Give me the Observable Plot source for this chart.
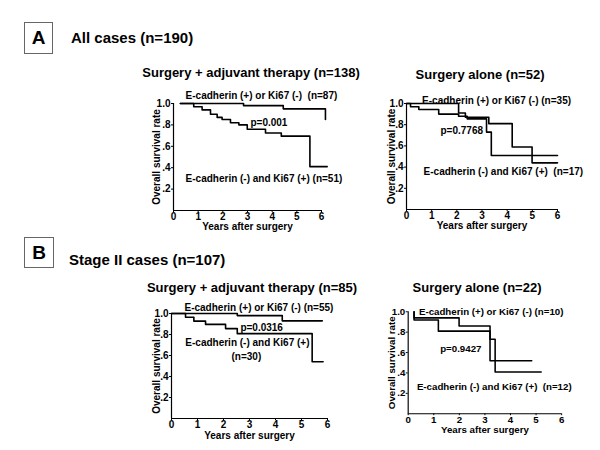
<!DOCTYPE html>
<html><head><meta charset="utf-8">
<script src="https://cdn.jsdelivr.net/npm/d3@7"></script>
<script src="https://cdn.jsdelivr.net/npm/@observablehq/plot@0.6"></script>
<style>
body{margin:0;background:#fff;}
#fig{position:relative;width:600px;height:450px;background:#fff;font-family:"Liberation Sans",Arial,sans-serif;font-weight:bold;color:#000;overflow:hidden;}
.abs{position:absolute;white-space:nowrap;line-height:16px;}
.ctr{transform:translateX(-50%);}
.box{position:absolute;border:1px solid #666;box-sizing:border-box;text-align:center;font-size:19px;}
.panel{position:absolute;}
svg text{white-space:pre;}
</style></head><body><div id="fig"></div>
<script>
// ---------- data ----------
const xTicks = [0, 1, 2, 3, 4, 5, 6];
const yTicks = [0.2, 0.4, 0.6, 0.8, 1.0];
const yTickLabels = [".2", ".4", ".6", ".8", "1.0"];
const xLabel = "Years after surgery";
const yLabel = "Overall survival rate";

const headerA = "All cases (n=190)";
const headerB = "Stage II cases (n=107)";
const titles = ["Surgery + adjuvant therapy (n=138)", "Surgery alone (n=52)",
                "Surgery + adjuvant therapy (n=85)", "Surgery alone (n=22)"];

// A1: surgery + adjuvant therapy, all cases
const a1PosTime = [0.28, 2.84, 4.45, 6.16];
const a1PosSurv = [1.0, 0.98, 0.95, 0.85];
const a1NegTime = [0.28, 0.82, 1.16, 1.50, 1.77, 1.97, 2.31, 2.65, 2.99, 3.73, 4.37, 5.53, 6.23];
const a1NegSurv = [1.0, 0.97, 0.94, 0.90, 0.87, 0.85, 0.82, 0.80, 0.76, 0.725, 0.695, 0.41, 0.41];
const a1Texts = ["E-cadherin (+) or Ki67 (-)  (n=87)", "p=0.001", "E-cadherin (-) and Ki67 (+) (n=51)"];

// A2: surgery alone, all cases
const a2PosTime = [0, 2.07, 2.34, 3.27, 4.2, 4.99, 6.0];
const a2PosSurv = [1.0, 0.91, 0.87, 0.81, 0.59, 0.44, 0.44];
const a2NegTime = [0, 0.16, 0.49, 1.28, 2.07, 2.41, 3.18, 3.37, 6.0];
const a2NegSurv = [1.0, 0.97, 0.944, 0.90, 0.88, 0.855, 0.73, 0.51, 0.51];
const a2Texts = ["E-cadherin (+) or Ki67 (-) (n=35)", "p=0.7768", "E-cadherin (-) and Ki67 (+)  (n=17)"];

// B1: surgery + adjuvant therapy, stage II
const b1PosTime = [0, 2.53, 4.26, 5.8];
const b1PosSurv = [1.0, 0.98, 0.93, 0.93];
const b1NegTime = [0, 0.54, 0.86, 1.31, 2.08, 2.53, 5.41, 5.83];
const b1NegSurv = [1.0, 0.965, 0.927, 0.896, 0.856, 0.808, 0.54, 0.54];
const b1Texts = ["E-cadherin (+) or Ki67 (-) (n=55)", "p=0.0316", "E-cadherin (-) and Ki67 (+)", "(n=30)"];

// B2: surgery alone, stage II
const b2PosTime = [0.23, 0.23, 1.99, 3.2, 3.4, 5.2];
const b2PosSurv = [1.0, 0.94, 0.86, 0.73, 0.41, 0.41];
const b2NegTime = [0.23, 0.23, 1.18, 3.2, 4.83];
const b2NegSurv = [1.0, 0.92, 0.81, 0.52, 0.52];
const b2Texts = ["E-cadherin (+) or Ki67 (-) (n=10)", "p=0.9427", "E-cadherin (-) and Ki67 (+)  (n=12)"];

// ---------- layout (pixel frame of each panel, annotation anchors in data units) ----------
const panelLayout = [
  {left:173, top:103, w:148, h:107, xLabDy:19, yLabDx:-17, titleX:251, titleY:73,
   annoX:[0.49, 3.12, 0.49], annoY:[1.074, 0.818, 0.294], annoAnchor:["start","start","start"]},
  {left:406, top:103, w:151, h:106, xLabDy:19, yLabDx:-15, titleX:480, titleY:75,
   annoX:[0.62, 1.35, 0.68], annoY:[1.028, 0.738, 0.355], annoAnchor:["start","start","start"]},
  {left:171, top:313, w:156, h:105, xLabDy:20, yLabDx:-15, titleX:252, titleY:288,
   annoX:[0.5, 2.65, 2.92, 2.88], annoY:[1.059, 0.868, 0.717, 0.585], annoAnchor:["start","start","middle","middle"]},
  {left:409, top:312, w:158, h:105, xLabDy:20, yLabDx:-17, titleX:477, titleY:288,
   annoX:[0.42, 1.25, 0.34], annoY:[1.0, 0.638, 0.267], annoAnchor:["start","start","start"]}
];

const curves = [
  [[a1PosTime, a1PosSurv], [a1NegTime, a1NegSurv]],
  [[a2PosTime, a2PosSurv], [a2NegTime, a2NegSurv]],
  [[b1PosTime, b1PosSurv], [b1NegTime, b1NegSurv]],
  [[b2PosTime, b2PosSurv], [b2NegTime, b2NegSurv]]
];
const annoTexts = [a1Texts, a2Texts, b1Texts, b2Texts];

const fig = document.getElementById("fig");
function addDiv(cls, text, css) {
  const d = document.createElement("div");
  d.className = cls; d.textContent = text;
  Object.assign(d.style, css);
  fig.appendChild(d);
  return d;
}

// section headers
addDiv("box", "A", {left:"24px", top:"22px", width:"29px", height:"32px", lineHeight:"30px"});
addDiv("abs", headerA, {left:"71px", top:"30px", fontSize:"15px"});
addDiv("box", "B", {left:"24px", top:"237px", width:"30px", height:"31px", lineHeight:"29px"});
addDiv("abs", headerB, {left:"69px", top:"252px", fontSize:"15px"});

const mL = 45, mR = 40, mT = 25, mB = 30;
panelLayout.forEach((L, i) => {
  addDiv("abs ctr", titles[i], {left: L.titleX + "px", top: (L.titleY - 8) + "px", fontSize: "13px"});
  const rows = [];
  curves[i].forEach(([t, s], k) => t.forEach((tt, j) => rows.push({g: k, t: tt, s: s[j]})));
  const annos = annoTexts[i].map((txt, j) => ({txt, x: L.annoX[j], y: L.annoY[j], a: L.annoAnchor[j]}));
  const chart = Plot.plot({
    width: L.w + mL + mR,
    height: L.h + mT + mB,
    marginLeft: mL, marginRight: mR, marginTop: mT, marginBottom: mB,
    style: {fontFamily: '"Liberation Sans", Arial, sans-serif', fontWeight: "bold", fontSize: "10px", background: "transparent", color: "#000"},
    x: {domain: [0, 6], ticks: xTicks, tickSize: 2, tickPadding: 0, label: null, tickFormat: d => String(d)},
    y: {domain: [0, 1], ticks: yTicks, tickSize: 2, tickPadding: 1, label: null,
        tickFormat: d => yTickLabels[yTicks.indexOf(d)]},
    marks: [
      Plot.ruleX([0], {stroke: "#000", strokeWidth: 1.2}),
      Plot.ruleY([0], {stroke: "#000", strokeWidth: 1.2}),
      Plot.line(rows, {x: "t", y: "s", z: "g", curve: "step-after", stroke: "#000", strokeWidth: 1.6}),
      ...annos.map(a => Plot.text([a], {x: "x", y: "y", text: "txt", textAnchor: a.a, fontSize: 10, fontWeight: "bold", fill: "#000"})),
      Plot.text([yLabel], {frameAnchor: "left", rotate: -90, dx: L.yLabDx, textAnchor: "middle", fontSize: 10, fontWeight: "bold", fill: "#000"}),
      Plot.text([xLabel], {frameAnchor: "bottom", dy: L.xLabDy, textAnchor: "middle", fontSize: 10, fontWeight: "bold", fill: "#000"})
    ]
  });
  const wrap = document.createElement("div");
  wrap.className = "panel";
  wrap.style.left = (L.left - mL) + "px";
  wrap.style.top = (L.top - mT) + "px";
  wrap.appendChild(chart);
  fig.appendChild(wrap);
});
</script>
</body></html>
